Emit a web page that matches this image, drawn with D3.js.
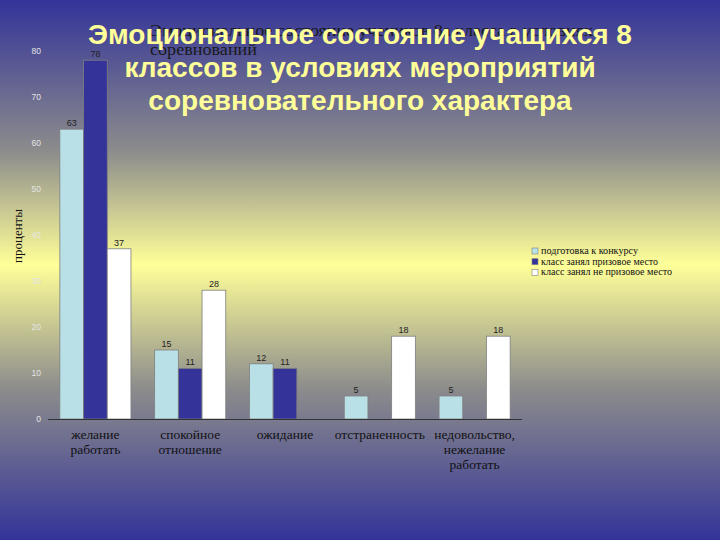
<!DOCTYPE html>
<html><head><meta charset="utf-8">
<script src="https://cdn.jsdelivr.net/npm/d3@7"></script>
<style>html,body{margin:0;padding:0;}svg{display:block;}</style>
</head><body>
<script>
const categories = [["желание","работать"],["спокойное","отношение"],["ожидание"],["отстраненность"],["недовольство,","нежелание","работать"]];
const seriesNames = ["подготовка к конкурсу","класс занял призовое место","класс занял не призовое место"];
const prep = [63, 15, 12, 5, 5];
const prize = [78, 11, 11, null, null];
const noPrize = [37, 28, null, 18, 18];
const yTicks = [0,10,20,30,40,50,60,70,80];
const colors = ["#b9e0e6","#333399","#ffffff"];
const mainTitle = ["Эмоциональное состояние учащихся 8","классов в условиях мероприятий","соревновательного характера"];
const subTitle = ["Эмоциональное состояние учеников 8а класса в условиях","соревнований"];
const yTitle = "проценты";

const W=720,H=540;
const svg=d3.select("body").append("svg").attr("width",W).attr("height",H);
const defs=svg.append("defs");
const g=defs.append("linearGradient").attr("id","bg").attr("x1",0).attr("y1",0).attr("x2",0).attr("y2",1);
[[0,"#333399"],[0.28,"#8c8c8c"],[0.49,"#ffff99"],[0.72,"#8c8c8c"],[1,"#333399"]].forEach(s=>g.append("stop").attr("offset",s[0]).attr("stop-color",s[1]));
svg.append("rect").attr("width",W).attr("height",H).attr("fill","url(#bg)");

const series=[prep,prize,noPrize];
const x=d3.scaleBand().domain(d3.range(categories.length)).range([48,522]).paddingInner(0.25).paddingOuter(0.125);
const xs=d3.scaleBand().domain([0,1,2]).range([0,x.bandwidth()]);
const y=d3.scaleLinear().domain([0,80]).range([419,51]);

// y tick labels
svg.append("g").selectAll("text").data(yTicks).join("text")
 .attr("x",41).attr("y",d=>y(d)+3).attr("text-anchor","end")
 .attr("font-family","Arial, Liberation Sans, sans-serif").attr("font-size",8.5)
 .attr("fill","#e4e4e4").text(d=>d);

// bars
series.forEach((s,si)=>{
  const gg=svg.append("g");
  const data=s.map((v,i)=>({v,i})).filter(d=>d.v!=null);
  gg.selectAll("rect").data(data).join("rect")
   .attr("x",d=>x(d.i)+xs(si)).attr("y",d=>y(d.v))
   .attr("width",xs.bandwidth()).attr("height",d=>y(0)-y(d.v))
   .attr("fill",colors[si]).attr("stroke","#7f7f7f").attr("stroke-width",0.8);
  gg.selectAll("text").data(data).join("text")
   .attr("x",d=>x(d.i)+xs(si)+xs.bandwidth()/2).attr("y",d=>y(d.v)-3)
   .attr("text-anchor","middle").attr("font-family","Arial, Liberation Sans, sans-serif")
   .attr("font-size",9).attr("fill","#222").text(d=>d.v);
});

// baseline
svg.append("line").attr("x1",48).attr("x2",522).attr("y1",y(0)+0.5).attr("y2",y(0)+0.5).attr("stroke","#333").attr("stroke-width",1);

// category labels
const cl=svg.append("g");
categories.forEach((c,i)=>{
  c.forEach((line,li)=>{
    cl.append("text").attr("x",x(i)+x.bandwidth()/2).attr("y",439+li*15)
     .attr("text-anchor","middle").attr("font-family","Liberation Serif, Times New Roman, serif")
     .attr("font-size",13.5).attr("fill","#111").text(line);
  });
});

// y title
svg.append("text").attr("transform","translate(22,236) rotate(-90)").attr("text-anchor","middle")
 .attr("font-family","Liberation Serif, Times New Roman, serif").attr("font-size",13).attr("fill","#111").text(yTitle);

// legend
const lg=svg.append("g");
const legendW=[97,117,131];
seriesNames.forEach((n,i)=>{
  lg.append("rect").attr("x",532).attr("y",248+i*10.7).attr("width",6).attr("height",6)
   .attr("fill",colors[i]).attr("stroke","#7f7f7f").attr("stroke-width",0.6);
  lg.append("text").attr("x",541).attr("y",254+i*10.7)
   .attr("font-family","Liberation Serif, Times New Roman, serif").attr("font-size",9.5)
   .attr("textLength",legendW[i]).attr("lengthAdjust","spacingAndGlyphs")
   .attr("fill","#111").text(n);
});

// subtitle (underneath)
const subW=[443,107];
subTitle.forEach((t,i)=>{
  svg.append("text").attr("x",150).attr("y",36+i*19)
   .attr("font-family","Liberation Serif, Times New Roman, serif").attr("font-size",16)
   .attr("textLength",subW[i]).attr("lengthAdjust","spacingAndGlyphs")
   .attr("fill","#1a1a1a").text(t);
});

// main title
mainTitle.forEach((t,i)=>{
  svg.append("text").attr("x",360).attr("y",44+i*33).attr("text-anchor","middle")
   .attr("font-family","Arial, Liberation Sans, sans-serif").attr("font-weight","bold").attr("font-size",28)
   .attr("fill","#ffff99").text(t);
});
</script>
</body></html>
